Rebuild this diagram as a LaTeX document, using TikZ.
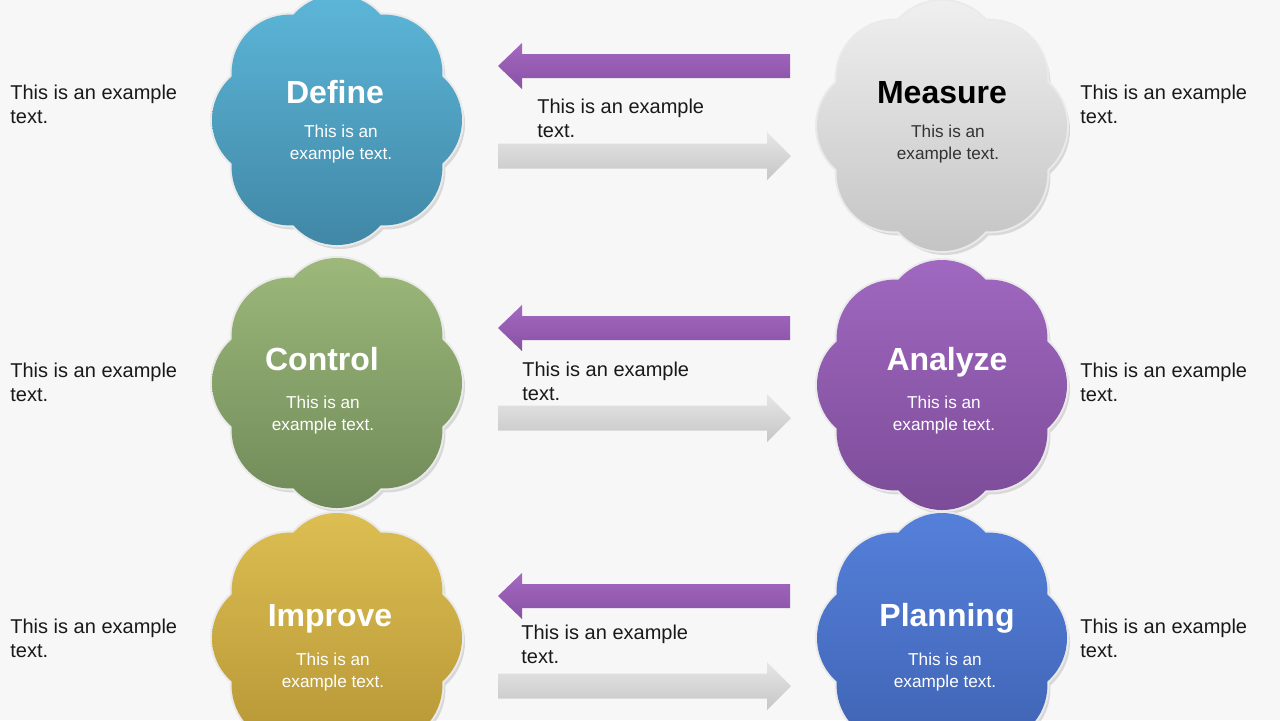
\documentclass[tikz,border=0pt]{standalone}
\usepackage{fontspec}
\setmainfont{Liberation Sans}
\usepackage{tikz}
\usetikzlibrary{positioning}

\definecolor{bg}{HTML}{F7F7F7}
\definecolor{rim}{HTML}{EAEAEA}
\definecolor{defineA}{HTML}{5CB6D8}
\definecolor{defineB}{HTML}{4187A6}
\definecolor{measureA}{HTML}{EFEFEF}
\definecolor{measureB}{HTML}{C4C4C4}
\definecolor{controlA}{HTML}{9DB87A}
\definecolor{controlB}{HTML}{6F8A58}
\definecolor{analyzeA}{HTML}{A068C0}
\definecolor{analyzeB}{HTML}{7C4C98}
\definecolor{improveA}{HTML}{DDBE52}
\definecolor{improveB}{HTML}{B39434}
\definecolor{planningA}{HTML}{5580DA}
\definecolor{planningB}{HTML}{3E62B2}
\definecolor{backA}{HTML}{A468C0}
\definecolor{backB}{HTML}{8852A6}
\definecolor{fwdA}{HTML}{E6E6E6}
\definecolor{fwdB}{HTML}{C6C6C6}

\tikzset{
    title/.style={font=\bfseries\fontsize{16}{19}\selectfont, anchor=base, inner sep=0pt},
    body/.style={font=\fontsize{8.6}{11}\selectfont, align=center, inner sep=0pt},
    side/.style={font=\fontsize{10}{12}\selectfont, align=left, anchor=west, inner sep=0pt, text=black!90},
}

\begin{document}
\begin{tikzpicture}[x=.5pt, y=-.5pt]
    \fill[bg](0,0) rectangle (1280,720);
    \useasboundingbox(0,0) rectangle (1280,720);
    
    % clouds
    \foreach \n/\x/\y in {define/337/120, measure/942/126, control/337/383, analyze/942/385, improve/337/638, planning/942/638}
    {
        \fill[black, opacity=.12](\x+3,\y+4) circle[radius=40pt]
            \foreach \a in {0,45,...,315}{([shift={(\a:67)}]\x+3,\y+4) circle[radius=29pt]};
        \draw[rim, line width=2pt](\x,\y) circle[radius=40pt]
            \foreach \a in {0,45,...,315}{([shift={(\a:67)}]\x,\y) circle[radius=29pt]};
        \shade[top color=\n A, bottom color=\n B](\x,\y) circle[radius=40pt]
            \foreach \a in {0,45,...,315}{([shift={(\a:67)}]\x,\y) circle[radius=29pt]};
    }
    
    \foreach \n/\tx/\ty/\bx/\by/\name/\tc/\bc in {define/335/103/341/144/Define/white/white,
        measure/942/103/948/144/Measure/black/black!80,
        control/322/370/323/415/Control/white/white,
        analyze/947/370/944/415/Analyze/white/white,
        improve/330/626/333/672/Improve/white/white,
        planning/947/626/945/672/Planning/white/white}
    {
        \node[title, text=\tc](\n) at (\tx,\ty){\name};
        \node[body, text=\bc](\n-txt) at (\bx,\by){This is an\\example text.};
    }
    
    % arrows
    \foreach \y in {66,328,596}
        \shade[top color=backA, bottom color=backB](498,\y)--(522,\y-23)--(522,\y-12)--(790,\y-12)--(790,\y+12)--(522,\y+12)--(522,\y+23)--cycle;
    \foreach \y in {156,418,686}
        \shade[top color=fwdA, bottom color=fwdB](498,\y-12.5)--(767,\y-12.5)--(767,\y-24)--(791,\y)--(767,\y+24)--(767,\y+12.5)--(498,\y+12.5)--cycle;
    
    % texts
    \foreach \i/\y in {1/104, 2/382, 3/638}
    {
        \node[side](left\i) at (10,\y){This is an example\\text.};
        \node[side](right\i) at (1080,\y){This is an example\\text.};
    }
    \foreach \i/\x/\y in {1/537/118, 2/522/381, 3/521/644}
        \node[side](mid\i) at (\x,\y){This is an example\\text.};
    
\end{tikzpicture}
\end{document}
